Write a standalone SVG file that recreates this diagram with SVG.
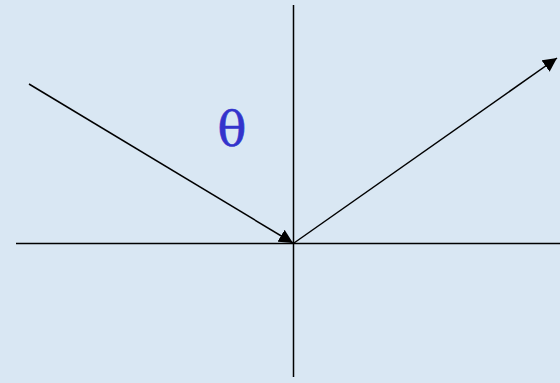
<svg xmlns="http://www.w3.org/2000/svg" width="560" height="383" viewBox="0 0 560 383">
<style>
.ln{stroke:#000;stroke-width:1.5;fill:none}
.th{font-family:"DejaVu Serif",serif;font-size:48px;fill:#3333cc;stroke:#3333cc;stroke-width:0.6}
</style>
<defs>
<marker id="ah" viewBox="0 0 10 10" refX="10" refY="5" markerWidth="14" markerHeight="14" markerUnits="userSpaceOnUse" orient="auto">
<path d="M0,0 L10,5 L0,10 z" fill="#000"/>
</marker>
</defs>
<rect width="560" height="383" fill="#d9e7f3"/>
<g id="axes">
<line class="ln" x1="16" y1="243.5" x2="560" y2="243.5"/>
<line class="ln" x1="293.5" y1="5" x2="293.5" y2="377"/>
</g>
<g id="connectors">
<line class="ln" x1="29" y1="84" x2="293" y2="243" marker-end="url(#ah)"/>
<line class="ln" x1="294" y1="243" x2="557" y2="58" marker-end="url(#ah)"/>
</g>
<g id="theta">
<text class="th" x="232" y="146" text-anchor="middle">θ</text>
</g>
</svg>
